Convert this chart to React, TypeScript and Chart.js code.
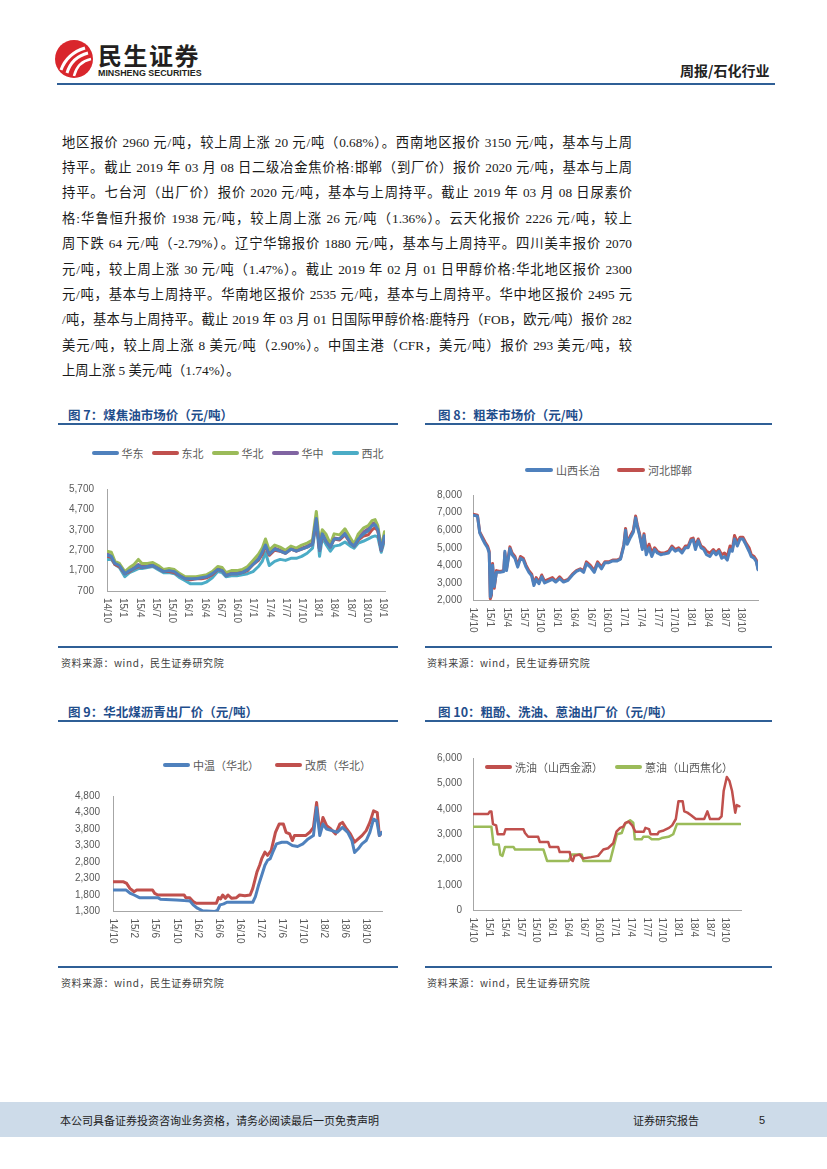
import React, { useEffect, useRef } from "react";
import { Chart, registerables } from "chart.js";
Chart.register(...registerables);

// ---------------- Chart 7: 煤焦油市场价 ----------------
const c7Ticks = ["14/10","15/1","15/4","15/7","15/10","16/1","16/4","16/7","16/10","17/1","17/4","17/7","17/10","18/1","18/4","18/7","18/10","19/1"];
const c7Dates = ["14-10-01","14-10-25","14-11-15","14-12-10","15-01-10","15-02-06","15-03-01","15-03-25","15-04-15","15-05-15","15-06-15","15-07-15","15-08-15","15-09-15","15-10-15","15-11-15","15-12-15","16-01-15","16-02-15","16-03-15","16-04-15","16-05-15","16-06-15","16-07-10","16-08-01","16-09-01","16-10-01","16-11-01","16-12-01","17-01-01","17-02-01","17-02-22","17-03-10","17-04-01","17-05-01","17-06-01","17-07-01","17-08-01","17-09-01","17-10-01","17-11-01","17-12-01","17-12-22","18-01-10","18-01-25","18-02-15","18-03-10","18-04-01","18-05-01","18-06-01","18-07-01","18-07-22","18-08-15","18-09-15","18-10-10","18-11-01","18-11-18","18-12-03","18-12-22","19-01-10"];
const c7East = [2450,2400,2050,1950,1550,1700,1800,1950,1850,1900,1950,1800,1650,1700,1650,1450,1300,1300,1300,1350,1400,1550,1750,1700,1450,1550,1550,1600,1750,2000,2250,2600,2950,2500,2750,2650,2550,2750,2650,2750,2850,3000,4250,2700,3500,3150,2850,3250,3250,3500,3050,2900,3250,3500,3650,3900,3950,3700,2700,3400];
const c7Northeast = [2400,2350,2000,1900,1550,1650,1800,1900,1850,1900,1950,1800,1650,1650,1600,1450,1300,1250,1300,1300,1350,1500,1750,1700,1450,1550,1550,1600,1700,2000,2200,2500,2900,2450,2700,2650,2550,2750,2650,2750,2850,3000,4200,2700,3450,3150,2850,3250,3200,3450,3050,2900,3200,3400,3450,3700,3800,3650,2700,3350];
const c7North = [2650,2600,2150,2050,1650,1850,2000,2250,2050,2050,2100,1950,1750,1800,1750,1550,1400,1400,1400,1450,1500,1650,1900,1850,1600,1700,1700,1750,1900,2200,2500,2800,3250,2700,2950,2850,2700,2900,2800,2950,3050,3200,4600,3000,3700,3500,3000,3500,3450,3750,3300,3000,3500,3800,3900,4150,4200,3900,2800,3600];
const c7Central = [2500,2450,2050,1950,1550,1700,1850,2000,1900,1950,1950,1850,1700,1700,1650,1500,1350,1300,1350,1350,1400,1550,1800,1750,1500,1600,1600,1650,1800,2050,2300,2650,3050,2550,2800,2700,2600,2800,2700,2800,2900,3050,4300,2700,3550,3200,2900,3300,3250,3550,3100,2950,3300,3600,3750,4000,4050,3750,2700,3450];
const c7Northwest = [2250,2250,2000,1850,1400,1600,1700,1800,1800,1850,1900,1750,1600,1600,1550,1350,1200,1050,1050,1050,1150,1350,1650,1600,1400,1450,1450,1500,1550,1650,1900,2150,2600,1950,2150,2250,2200,2300,2300,2400,2550,2800,4100,2400,3300,3000,2650,2900,2950,3100,2900,2800,3050,3150,3250,3350,3400,3350,2600,3150];

// ---------------- Chart 8: 粗苯市场价 ----------------
const c8Ticks = ["14/10","15/1","15/4","15/7","15/10","16/1","16/4","16/7","16/10","17/1","17/4","17/7","17/10","18/1","18/4","18/7","18/10"];
const c8Dates = ["14-10-01","14-10-25","14-11-07","14-11-22","14-12-07","14-12-19","14-12-28","15-01-04","15-01-10","15-01-16","15-01-25","15-02-07","15-02-25","15-03-16","15-03-22","15-04-01","15-04-19","15-05-01","15-05-16","15-06-01","15-06-16","15-07-01","15-07-16","15-08-01","15-08-16","15-08-28","15-09-10","15-09-25","15-10-10","15-10-25","15-11-16","15-12-07","15-12-25","16-01-16","16-02-07","16-03-01","16-03-25","16-04-16","16-05-07","16-05-25","16-06-10","16-07-01","16-07-22","16-08-10","16-09-01","16-09-19","16-10-10","16-11-01","16-11-25","16-12-13","17-01-01","17-01-10","17-01-19","17-02-07","17-02-22","17-03-04","17-03-13","17-03-25","17-04-10","17-04-19","17-05-01","17-05-16","17-06-01","17-06-16","17-07-01","17-07-19","17-08-07","17-09-01","17-09-19","17-10-07","17-10-25","17-11-13","17-12-01","17-12-16","18-01-01","18-01-13","18-01-25","18-02-10","18-02-25","18-03-10","18-03-25","18-04-13","18-05-01","18-05-16","18-06-01","18-06-16","18-07-01","18-07-16","18-08-01","18-08-13","18-08-25","18-09-10","18-09-25","18-10-10","18-10-25","18-11-13","18-11-25","18-12-10","18-12-22","19-01-01"];
const c8Handan = [6900,6850,5900,5600,5300,5100,4800,2100,2300,4100,2700,3700,3650,3700,4700,3800,5050,4700,4500,4000,4500,4400,4000,3700,3500,2950,3300,3050,3450,3100,3200,3300,3100,3350,3100,3200,3500,3700,3800,3700,4200,4000,3700,4200,3900,4200,4200,4300,4300,4400,5200,6100,5300,5700,6000,6800,6300,5800,5000,5800,4800,5200,4700,5000,4800,4700,4700,4800,5100,4900,5000,4800,5100,5100,5500,5550,5100,5500,5100,5000,4800,4700,4900,4700,4900,4600,4700,4500,5100,4900,5700,5300,5600,5600,5300,5000,4600,4500,4300,3800];
const c8Changzhi = [6850,6800,5850,5500,5200,5000,4700,2200,2400,4000,2800,3600,3600,3650,4800,3700,4950,4600,4400,3900,4400,4300,3900,3600,3400,2850,3200,2950,3350,3000,3100,3200,3050,3250,3050,3150,3450,3650,3750,3600,4100,3900,3600,4100,3800,4150,4150,4250,4250,4350,5100,6000,5200,5600,5900,6700,6200,5700,4900,5700,4600,5000,4500,4900,4700,4600,4650,4700,5000,4800,4900,4700,5000,5000,5400,5450,4900,5400,5000,4900,4600,4500,4800,4600,4800,4400,4500,4300,4900,4800,5500,5100,5500,5500,5200,4800,4500,4400,4200,3750];

// ---------------- Chart 9: 华北煤沥青出厂价 ----------------
const c9Ticks = ["14/10","15/2","15/6","15/10","16/2","16/6","16/10","17/2","17/6","17/10","18/2","18/6","18/10"];
const c9MidDates = ["14-10-01","14-12-16","15-01-07","15-02-01","15-03-01","15-06-16","15-07-01","15-10-01","15-11-16","15-12-19","16-01-07","16-02-01","16-03-01","16-05-10","16-05-25","16-06-10","16-07-01","16-07-19","16-12-16","17-01-01","17-01-19","17-02-07","17-02-25","17-03-10","17-03-25","17-04-10","17-05-01","17-06-01","17-07-01","17-08-01","17-09-01","17-10-01","17-11-01","17-12-01","17-12-19","18-01-07","18-01-25","18-02-16","18-03-16","18-04-16","18-05-16","18-06-16","18-07-10","18-07-25","18-08-16","18-09-07","18-10-01","18-10-22","18-11-13","18-12-01","18-12-16","19-01-01"];
const c9MidValues = [1950,1950,1860,1800,1720,1720,1670,1650,1630,1620,1500,1400,1320,1300,1330,1500,1530,1580,1580,1750,2100,2400,2700,2850,2900,3100,3350,3400,3400,3300,3270,3350,3500,3600,4450,3600,3950,3800,3750,3700,3850,3700,3450,3090,3200,3350,3450,3700,4100,4050,3600,3700];
const c9ModDates = ["14-10-01","14-12-01","14-12-19","15-01-07","15-02-01","15-02-16","15-05-16","15-05-28","15-06-16","15-11-16","15-11-25","15-12-16","16-01-07","16-01-25","16-05-19","16-06-01","16-06-13","16-06-25","16-07-10","16-07-25","16-08-16","16-09-13","16-10-01","16-11-01","16-12-01","16-12-16","17-01-10","17-01-25","17-02-07","17-02-25","17-03-10","17-04-01","17-04-25","17-05-16","17-06-10","17-06-25","17-07-16","17-08-01","17-08-13","17-10-16","17-11-10","17-12-01","17-12-19","18-01-07","18-01-25","18-02-16","18-03-10","18-04-07","18-05-01","18-05-16","18-06-10","18-07-01","18-07-25","18-08-16","18-09-07","18-10-01","18-10-22","18-11-13","18-12-04","18-12-16","19-01-01"];
const c9ModValues = [2200,2200,2150,2000,1900,1950,1950,1850,1800,1800,1720,1720,1600,1550,1550,1720,1680,1800,1700,1800,1700,1720,1800,1780,1800,2000,2500,2700,2900,3100,3000,3150,3700,3950,3950,3700,3650,3450,3600,3600,3700,3850,4600,3700,4150,3900,3800,3650,3950,4000,3800,3650,3400,3500,3600,3750,4000,4350,4300,3600,3700];

// ---------------- Chart 10: 粗酚、洗油、蒽油出厂价 ----------------
const c10Ticks = ["14/10","15/1","15/4","15/7","15/10","16/1","16/4","16/7","16/10","17/1","17/4","17/7","17/10","18/1","18/4","18/7","18/10"];
const c10WashDates = ["14-10-01","14-12-28","15-01-07","15-01-16","15-01-25","15-02-13","15-02-22","15-03-28","15-04-07","15-07-19","15-07-28","15-08-16","15-10-13","15-10-22","15-12-10","15-12-19","16-02-07","16-02-16","16-04-13","16-04-22","16-05-01","16-05-10","16-06-10","16-06-28","16-08-16","16-09-25","16-10-25","16-11-22","16-12-22","17-01-10","17-02-01","17-02-19","17-03-01","17-03-19","17-04-10","17-04-28","17-06-16","17-06-25","17-07-16","17-07-25","17-09-04","17-09-13","17-10-10","17-11-10","17-11-28","17-12-19","18-01-04","18-01-28","18-02-07","18-02-25","18-03-16","18-04-13","18-06-01","18-06-19","18-07-04","18-08-25","18-09-10","18-09-22","18-10-10","18-10-25","18-11-10","18-11-28","18-12-07","18-12-22"];
const c10WashValues = [3800,3800,3900,3900,3400,3350,3000,3000,3200,3200,3050,2900,2900,2700,2700,2500,2500,2300,2300,2000,1950,2150,2200,2050,2100,2150,2400,2450,2650,3100,3250,3300,3450,3500,3350,3100,3100,3250,3200,3000,3000,3100,3150,3250,3350,3600,4300,4300,3900,3850,3750,3600,3600,3900,3600,3600,3700,4700,5250,5100,4700,3850,4150,4100];
const c10AnthDates = ["14-10-01","15-01-16","15-01-28","15-02-28","15-03-07","15-03-19","15-04-04","15-05-22","15-06-01","15-11-13","15-12-04","16-04-07","16-04-25","16-06-22","16-07-01","16-12-04","16-12-13","17-01-13","17-02-10","17-02-28","17-03-28","17-04-16","17-04-25","17-06-04","17-06-13","17-07-13","17-08-01","17-09-10","17-09-28","17-11-07","17-12-04","17-12-25","18-12-28"];
const c10AnthValues = [3300,3300,2600,2600,2200,2150,2500,2500,2400,2400,1950,1950,2200,2200,1950,1950,2200,3000,3050,3400,3550,3450,2800,2800,2900,2900,2800,2800,2850,2900,3000,3400,3400];

// ---------------- Page text ----------------
const paragraphLines = [
  "地区报价 2960 元/吨，较上周上涨 20 元/吨（0.68%）。西南地区报价 3150 元/吨，基本与上周",
  "持平。截止 2019 年 03 月 08 日二级冶金焦价格:邯郸（到厂价）报价 2020 元/吨，基本与上周",
  "持平。七台河（出厂价）报价 2020 元/吨，基本与上周持平。截止 2019 年 03 月 08 日尿素价",
  "格:华鲁恒升报价 1938 元/吨，较上周上涨 26 元/吨（1.36%）。云天化报价 2226 元/吨，较上",
  "周下跌 64 元/吨（-2.79%）。辽宁华锦报价 1880 元/吨，基本与上周持平。四川美丰报价 2070",
  "元/吨，较上周上涨 30 元/吨（1.47%）。截止 2019 年 02 月 01 日甲醇价格:华北地区报价 2300",
  "元/吨，基本与上周持平。华南地区报价 2535 元/吨，基本与上周持平。华中地区报价 2495 元",
  "/吨，基本与上周持平。截止 2019 年 03 月 01 日国际甲醇价格:鹿特丹（FOB，欧元/吨）报价 282",
  "美元/吨，较上周上涨 8 美元/吨（2.90%）。中国主港（CFR，美元/吨）报价 293 美元/吨，较",
  "上周上涨 5 美元/吨（1.74%）。",
];
const sourceText = "资料来源：wind，民生证券研究院";

const BLUE = "#4f81bd", RED = "#c0504d", GREEN = "#9bbb59", PURPLE = "#8064a2", TEAL = "#4bacc6";

const mi = (d: string) => {
  const [y, m, dd] = d.split("-").map(Number);
  return (y - 14) * 12 + (m - 10) + (dd - 1) / 30;
};
const ti = (t: string) => {
  const [y, m] = t.split("/").map(Number);
  return (y - 14) * 12 + (m - 10);
};
const zip = (dates: string[], vals: number[]) => dates.map((d, i) => ({ x: mi(d), y: vals[i] }));

type Series = { label: string; color: string; dates: string[]; values: number[] };
type Cfg = {
  left: number; top: number; width: number; height: number;
  padTop: number; padRight: number; yWidth: number; yPad: number; xHeight: number;
  yMin: number; yMax: number; yStep: number; xMax: number; ticks: string[];
  series: Series[]; lineWidth: number;
};

const xLabelPlugin = (ticks: string[]) => ({
  id: "rotXLabels",
  afterDraw(chart: any) {
    const xs = chart.scales.x;
    const ctx = chart.ctx;
    ctx.save();
    ctx.font = "10px 'Liberation Sans', Arial, sans-serif";
    ctx.fillStyle = "#595959";
    ctx.textAlign = "left";
    ctx.textBaseline = "middle";
    ticks.forEach((t) => {
      const px = xs.getPixelForValue(ti(t));
      ctx.save();
      ctx.translate(px, xs.top + 7);
      ctx.rotate(Math.PI / 2);
      ctx.fillText(t, 0, 0);
      ctx.restore();
    });
    ctx.restore();
  },
});

function LineChart({ cfg }: { cfg: Cfg }) {
  const ref = useRef<HTMLCanvasElement>(null);
  useEffect(() => {
    const chart = new Chart(ref.current as HTMLCanvasElement, {
      type: "line",
      data: {
        datasets: cfg.series.map((s) => ({
          label: s.label,
          data: zip(s.dates, s.values),
          borderColor: s.color,
          backgroundColor: s.color,
          borderWidth: cfg.lineWidth,
          pointRadius: 0,
          tension: 0,
          fill: false,
          borderJoinStyle: "round",
          borderCapStyle: "round",
        })),
      },
      options: {
        responsive: false,
        maintainAspectRatio: false,
        animation: false,
        layout: { padding: { top: cfg.padTop, right: cfg.padRight, left: 0, bottom: 0 } },
        plugins: { legend: { display: false }, tooltip: { enabled: false } },
        scales: {
          x: {
            type: "linear",
            min: 0,
            max: cfg.xMax,
            grid: { display: false, drawTicks: false },
            border: { display: true, color: "#a6a6a6", width: 1 },
            ticks: { display: false },
            afterFit: (s: any) => { s.height = cfg.xHeight; },
          },
          y: {
            type: "linear",
            min: cfg.yMin,
            max: cfg.yMax,
            grid: { display: false, drawTicks: false },
            border: { display: true, color: "#a6a6a6", width: 1 },
            ticks: {
              stepSize: cfg.yStep,
              padding: cfg.yPad,
              color: "#595959",
              font: { family: "'Liberation Sans', Arial, sans-serif", size: 10 },
              callback: (v: any) => Number(v).toLocaleString("en-US"),
            },
            afterFit: (s: any) => { s.width = cfg.yWidth; },
          },
        },
      } as any,
      plugins: [xLabelPlugin(cfg.ticks)],
    });
    return () => chart.destroy();
  }, []);
  return (
    <canvas
      ref={ref}
      width={cfg.width}
      height={cfg.height}
      style={{ position: "absolute", left: cfg.left, top: cfg.top, width: cfg.width, height: cfg.height }}
    />
  );
}

function Legend({ left, top, items, barW, itemGap }: { left: number; top: number; items: { label: string; color: string }[]; barW: number; itemGap: number }) {
  return (
    <div style={{ position: "absolute", left, top: top - 8, height: 16, display: "flex", alignItems: "center", gap: itemGap, whiteSpace: "nowrap" }}>
      {items.map((it) => (
        <div key={it.label} style={{ display: "flex", alignItems: "center" }}>
          <span style={{ display: "inline-block", width: barW, height: 4, borderRadius: 2, background: it.color, marginRight: 3 }} />
          <span style={{ fontFamily: "'Noto Sans CJK SC', sans-serif", fontSize: 11, color: "#595959", lineHeight: "16px" }}>{it.label}</span>
        </div>
      ))}
    </div>
  );
}

const titleStyle: React.CSSProperties = {
  position: "absolute", fontFamily: "'Noto Sans CJK SC', sans-serif", fontWeight: 700, fontSize: 12.5,
  color: "#1f4e8c", lineHeight: "16px", whiteSpace: "nowrap",
};
const srcStyle: React.CSSProperties = {
  position: "absolute", fontFamily: "'Noto Sans CJK SC', sans-serif", fontSize: 10, color: "#404040",
  lineHeight: "14px", whiteSpace: "nowrap", letterSpacing: 0.6,
};
const rule = (left: number, top: number, width: number, h = 2): React.CSSProperties => ({
  position: "absolute", left, top, width, height: h, background: "#2f5f96",
});

export default function App() {
  const c7: Cfg = {
    left: 58, top: 470, width: 335, height: 175, padTop: 11, padRight: 8, yWidth: 49, yPad: 13, xHeight: 54,
    yMin: 700, yMax: 5700, yStep: 1000, xMax: 51.4, ticks: c7Ticks, lineWidth: 3,
    series: [
      { label: "华东", color: BLUE, dates: c7Dates, values: c7East },
      { label: "东北", color: RED, dates: c7Dates, values: c7Northeast },
      { label: "华北", color: GREEN, dates: c7Dates, values: c7North },
      { label: "华中", color: PURPLE, dates: c7Dates, values: c7Central },
      { label: "西北", color: TEAL, dates: c7Dates, values: c7Northwest },
    ],
  };
  const c8: Cfg = {
    left: 427, top: 478, width: 338, height: 167, padTop: 10, padRight: 7, yWidth: 46, yPad: 11, xHeight: 44.5,
    yMin: 2000, yMax: 8000, yStep: 1000, xMax: 51, ticks: c8Ticks, lineWidth: 3,
    series: [
      { label: "山西长治", color: BLUE, dates: c8Dates, values: c8Changzhi },
      { label: "河北邯郸", color: RED, dates: c8Dates, values: c8Handan },
    ],
  };
  const c9: Cfg = {
    left: 58, top: 777, width: 335, height: 188, padTop: 10, padRight: 11, yWidth: 55, yPad: 13, xHeight: 53.5,
    yMin: 1300, yMax: 4800, yStep: 500, xMax: 51, ticks: c9Ticks, lineWidth: 3,
    series: [
      { label: "中温（华北）", color: BLUE, dates: c9MidDates, values: c9MidValues },
      { label: "改质（华北）", color: RED, dates: c9ModDates, values: c9ModValues },
    ],
  };
  const c10: Cfg = {
    left: 427, top: 741, width: 338, height: 224, padTop: 10.5, padRight: 24, yWidth: 46, yPad: 11, xHeight: 54.5,
    yMin: 0, yMax: 6000, yStep: 1000, xMax: 51, ticks: c10Ticks, lineWidth: 2.5,
    series: [
      { label: "洗油（山西金源）", color: RED, dates: c10WashDates, values: c10WashValues },
      { label: "蒽油（山西焦化）", color: GREEN, dates: c10AnthDates, values: c10AnthValues },
    ],
  };

  return (
    <div style={{ position: "absolute", left: 0, top: 0, width: 827, height: 1169, background: "#fff", overflow: "hidden" }}>
      {/* header */}
      <svg width="40" height="40" viewBox="0 0 40 40" style={{ position: "absolute", left: 54, top: 39 }}>
        <circle cx="20" cy="20" r="19" fill="#d9262c" />
        <path d="M7 31 C 11 20, 18 13, 31 9" stroke="#fff" strokeWidth="3" fill="none" />
        <path d="M13 34 C 16 24, 22 17, 34 14" stroke="#fff" strokeWidth="3" fill="none" />
        <path d="M20 37 C 22 29, 27 22, 37 20" stroke="#fff" strokeWidth="2.5" fill="none" />
      </svg>
      <div style={{ position: "absolute", left: 98, top: 40, fontFamily: "'Noto Sans CJK SC', sans-serif", fontWeight: 700, fontSize: 24, lineHeight: "30px", color: "#231f20", letterSpacing: 1.5 }}>民生证券</div>
      <div style={{ position: "absolute", left: 98, top: 68, fontFamily: "'Liberation Sans', Arial, sans-serif", fontWeight: 700, fontSize: 8.9, lineHeight: "10px", color: "#231f20" }}>MINSHENG SECURITIES</div>
      <div style={{ position: "absolute", left: 680, top: 62, fontFamily: "'Noto Sans CJK SC', sans-serif", fontWeight: 700, fontSize: 14, lineHeight: "16px", color: "#222" }}>周报/石化行业</div>
      <div style={rule(57, 83, 718, 2)} />

      {/* paragraph */}
      {paragraphLines.map((ln, i) => (
        <div key={i} style={{
          position: "absolute", left: 62, top: 129.5 + i * 25.4, width: 570, height: 25, lineHeight: "25px",
          fontFamily: "'Liberation Serif', 'Noto Sans CJK SC', serif", fontSize: 13.3, color: "#1a1a1a",
          whiteSpace: "nowrap", textAlign: i < paragraphLines.length - 1 ? "justify" : "left",
          textAlignLast: i < paragraphLines.length - 1 ? "justify" : "left",
        } as React.CSSProperties}>{ln}</div>
      ))}

      {/* chart 7 */}
      <div style={{ ...titleStyle, left: 68, top: 407 }}>图 7：煤焦油市场价（元/吨）</div>
      <div style={rule(58, 423, 340, 2)} />
      <Legend left={91.5} top={453} barW={27} itemGap={8} items={c7.series.map((s) => ({ label: s.label, color: s.color }))} />
      <LineChart cfg={c7} />
      <div style={rule(58, 646, 340, 1.5)} />
      <div style={{ ...srcStyle, left: 61, top: 656 }}>{sourceText}</div>

      {/* chart 8 */}
      <div style={{ ...titleStyle, left: 438, top: 407 }}>图 8：粗苯市场价（元/吨）</div>
      <div style={rule(425, 423, 347, 2)} />
      <Legend left={525} top={470} barW={28} itemGap={17} items={c8.series.map((s) => ({ label: s.label, color: s.color }))} />
      <LineChart cfg={c8} />
      <div style={rule(425, 646, 347, 1.5)} />
      <div style={{ ...srcStyle, left: 427, top: 656 }}>{sourceText}</div>

      {/* chart 9 */}
      <div style={{ ...titleStyle, left: 68, top: 704 }}>图 9：华北煤沥青出厂价（元/吨）</div>
      <div style={rule(58, 720, 340, 2)} />
      <Legend left={163} top={765} barW={27} itemGap={16} items={c9.series.map((s) => ({ label: s.label, color: s.color }))} />
      <LineChart cfg={c9} />
      <div style={rule(58, 966, 340, 1.5)} />
      <div style={{ ...srcStyle, left: 61, top: 976 }}>{sourceText}</div>

      {/* chart 10 */}
      <div style={{ ...titleStyle, left: 438, top: 704 }}>图 10：粗酚、洗油、蒽油出厂价（元/吨）</div>
      <div style={rule(425, 720, 347, 2)} />
      <LineChart cfg={c10} />
      <Legend left={485} top={767} barW={27} itemGap={12} items={c10.series.map((s) => ({ label: s.label, color: s.color }))} />
      <div style={rule(425, 966, 347, 1.5)} />
      <div style={{ ...srcStyle, left: 427, top: 976 }}>{sourceText}</div>

      {/* footer */}
      <div style={{ position: "absolute", left: 0, top: 1102, width: 827, height: 35, background: "#cddbe9" }} />
      <div style={{ position: "absolute", left: 60, top: 1112, fontFamily: "'Noto Sans CJK SC', sans-serif", fontSize: 11, lineHeight: "16px", color: "#222" }}>本公司具备证券投资咨询业务资格，请务必阅读最后一页免责声明</div>
      <div style={{ position: "absolute", left: 633, top: 1112, fontFamily: "'Noto Sans CJK SC', sans-serif", fontSize: 11, lineHeight: "16px", color: "#222" }}>证券研究报告</div>
      <div style={{ position: "absolute", left: 759, top: 1112, fontFamily: "'Liberation Sans', Arial, sans-serif", fontSize: 11, lineHeight: "16px", color: "#222" }}>5</div>
    </div>
  );
}
